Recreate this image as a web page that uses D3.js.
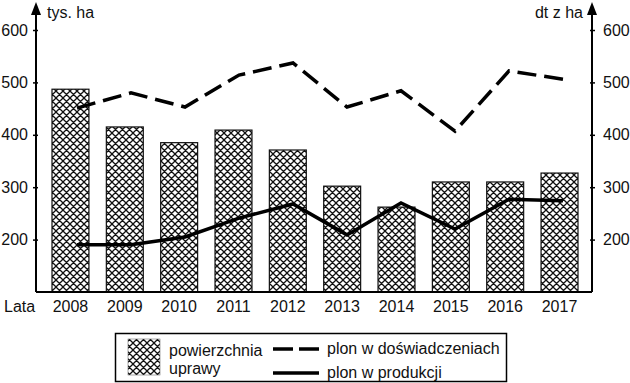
<!DOCTYPE html>
<html><head><meta charset="utf-8">
<script src="https://cdn.jsdelivr.net/npm/d3@7/dist/d3.min.js"></script>
<style>body{margin:0;background:#fff}svg{display:block;font-family:"Liberation Sans",Arial,sans-serif}</style>
</head><body><svg id="c" width="630" height="383"></svg>
<script>
const years = ["2008","2009","2010","2011","2012","2013","2014","2015","2016","2017"];
const area = [487, 415, 385, 409, 371, 302, 262, 310, 310, 327];
const yieldExp = [451, 480, 453, 514, 537, 453, 484, 407, 522, 506];
const yieldProd = [190, 190, 205, 241, 268, 209, 270, 220, 277, 274];
const ticks = [200, 300, 400, 500, 600];

const svg = d3.select("#c");
const L = 36, R = 592, B = 292;
const FS = 16;
const y = d3.scaleLinear().domain([100, 600]).range([B, 30]);
const x = d3.scaleBand().domain(years).range([52, 578]).paddingInner(0.32).paddingOuter(0);
const xl = d3.scalePoint().domain(years).range([77, 563]);

const defs = svg.append("defs");
const pat = defs.append("pattern").attr("id","hatch").attr("patternUnits","userSpaceOnUse")
  .attr("width",7).attr("height",7);
pat.append("rect").attr("width",7).attr("height",7).attr("fill","#fff");
pat.append("path").attr("d","M0,0L7,7M7,0L0,7M-1,6L1,8M6,-1L8,1").attr("stroke","#111").attr("stroke-width",1.3);

// bars
svg.append("g").selectAll("rect").data(years).join("rect")
  .attr("x", d => x(d)).attr("width", x.bandwidth())
  .attr("y", (d,i) => y(area[i])).attr("height", (d,i) => B - y(area[i]))
  .attr("fill","url(#hatch)").attr("stroke","#111").attr("stroke-width",1.2);

// axes
const ax = svg.append("g").attr("stroke","#000").attr("stroke-width",2);
ax.append("line").attr("x1",L).attr("x2",L).attr("y1",B).attr("y2",8);
ax.append("line").attr("x1",R).attr("x2",R).attr("y1",B).attr("y2",8);
ax.append("line").attr("x1",L).attr("x2",R).attr("y1",B).attr("y2",B);
svg.append("path").attr("d",`M${L-5},15L${L},2L${L+5},15Z`).attr("fill","#000");
svg.append("path").attr("d",`M${R-5},15L${R},2L${R+5},15Z`).attr("fill","#000");

const leftAxis = d3.axisLeft(y).tickValues(ticks).tickSize(5).tickPadding(5);
const rightAxis = d3.axisRight(y).tickValues(ticks).tickSize(5).tickPadding(8);
function style(g){
  g.select(".domain").remove();
  g.selectAll(".tick line").attr("stroke","#000").attr("stroke-width",1.5);
  g.selectAll(".tick text").attr("font-size",FS).attr("fill","#111").attr("font-family","Liberation Sans, Arial, sans-serif");
}
svg.append("g").attr("transform",`translate(${L+2},0)`).call(leftAxis).call(style);
svg.append("g").attr("transform",`translate(${R-2},0)`).call(rightAxis).call(style);

// x labels
svg.append("g").selectAll("text").data(years).join("text")
  .attr("x", d => x(d) + x.bandwidth()/2).attr("y", 312).attr("text-anchor","middle")
  .attr("font-size",FS).attr("fill","#111").text(d=>d);
svg.append("text").attr("x",4).attr("y",312).attr("font-size",FS).attr("fill","#111").text("Lata");
svg.append("text").attr("x",47).attr("y",18).attr("font-size",FS).attr("fill","#111").text("tys. ha");
svg.append("text").attr("x",583).attr("y",18).attr("text-anchor","end").attr("font-size",FS).attr("fill","#111").text("dt z ha");

// lines
const line = d3.line().x((d,i)=>xl(years[i])).y(d=>y(d));
svg.append("path").datum(yieldExp).attr("d",line).attr("fill","none").attr("stroke","#000")
  .attr("stroke-width",3.5).attr("stroke-dasharray","19,8");
svg.append("path").datum(yieldProd).attr("d",line).attr("fill","none").attr("stroke","#000")
  .attr("stroke-width",3.5);

// legend
const lg = svg.append("g");
lg.append("rect").attr("x",115.5).attr("y",333.5).attr("width",391).attr("height",48).attr("fill","#fff").attr("stroke","#000").attr("stroke-width",1.5);
lg.append("rect").attr("x",128).attr("y",339).attr("width",32).attr("height",36).attr("fill","url(#hatch)").attr("stroke","#555").attr("stroke-width",0.5);
lg.append("text").attr("x",169).attr("y",356).attr("font-size",FS).attr("fill","#111").text("powierzchnia");
lg.append("text").attr("x",169).attr("y",374).attr("font-size",FS).attr("fill","#111").text("uprawy");
lg.append("line").attr("x1",273).attr("x2",319).attr("y1",349).attr("y2",349).attr("stroke","#000").attr("stroke-width",3.5).attr("stroke-dasharray","20,6");
lg.append("line").attr("x1",273).attr("x2",319).attr("y1",373).attr("y2",373).attr("stroke","#000").attr("stroke-width",3.5);
lg.append("text").attr("x",327).attr("y",354).attr("font-size",FS).attr("fill","#111").text("plon w doświadczeniach");
lg.append("text").attr("x",327).attr("y",378).attr("font-size",FS).attr("fill","#111").text("plon w produkcji");
</script></body></html>
